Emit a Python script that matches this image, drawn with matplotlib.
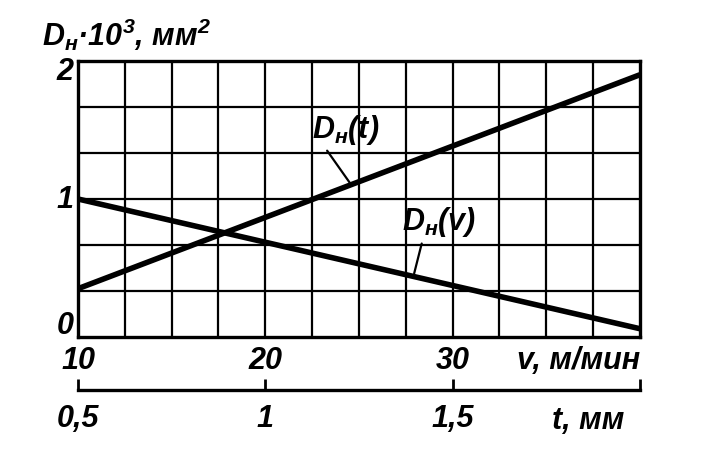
import matplotlib
matplotlib.use("Agg")
import matplotlib.pyplot as plt
import numpy as np

# values
v = [10, 40]                 # cutting speed, m/min (bottom scale)
t = [0.5, 2.0]               # depth, mm (second scale)
dn_t = [0.35, 1.90]          # D_H(t) * 10^3, mm^2
dn_v = [1.00, 0.06]          # D_H(v) * 10^3, mm^2

v_ticks = [10, 20, 30]
v_labels = ["10", "20", "30"]
t_ticks = [0.5, 1.0, 1.5, 2.0]
t_labels = ["0,5", "1", "1,5", ""]
y_marks = [1.93, 1.0, 0.09]
y_labels = ["2", "1", "0"]

FAM = ["Liberation Sans", "DejaVu Sans"]
plt.rcParams["font.family"] = FAM
plt.rcParams["mathtext.fontset"] = "custom"
plt.rcParams["mathtext.it"] = "Liberation Sans:italic:bold"
plt.rcParams["mathtext.rm"] = "Liberation Sans:italic:bold"
plt.rcParams["mathtext.bf"] = "Liberation Sans:italic:bold"
FS = 22
txt = dict(fontsize=FS, fontweight="bold", fontstyle="italic")

fig = plt.figure(figsize=(7.04, 4.64), dpi=100)
ax = fig.add_axes([0.1108, 0.2716, 0.798, 0.5948])

ax.set_xlim(v[0], v[1])
ax.set_ylim(0, 2)
for gx in np.arange(12.5, 39.9, 2.5):
    ax.axvline(gx, color="black", linewidth=1.6, zorder=1)
for gy in np.arange(1, 6) / 3:
    ax.axhline(gy, color="black", linewidth=1.6, zorder=1)
ax.set_xticks(v_ticks)
ax.set_xticklabels(v_labels, **txt)
ax.set_yticks([])
ax.tick_params(axis="x", length=0, pad=6)
for s in ax.spines.values():
    s.set_linewidth(2.4)

ax.plot(v, dn_v, color="black", linewidth=4, solid_capstyle="butt", zorder=3)
# D_H(t) drawn in the same frame, its t range spans the v range
tx = np.interp(t, t, v)
ax.plot(tx, dn_t, color="black", linewidth=4, solid_capstyle="butt", zorder=3)

for yv, lab in zip(y_marks, y_labels):
    ax.text(9.3, yv, lab, ha="center", va="center", **txt)

ax.text(8.1, 2.2, r"$D_н$·10$^3$, мм$^2$", ha="left", va="center", **txt)
ax.text(40, -0.06, "v, м/мин", ha="right", va="top", **txt)

ax.annotate(r"$D_н(t)$", xy=(24.5, 1.12), xytext=(24.3, 1.51),
            ha="center", va="center", fontsize=FS,
            arrowprops=dict(arrowstyle="-", color="black", lw=1.6,
                            relpos=(0.17, 0.0), shrinkA=2, shrinkB=0))
ax.annotate(r"$D_н(v)$", xy=(27.95, 0.46), xytext=(29.3, 0.84),
            ha="center", va="center", fontsize=FS,
            arrowprops=dict(arrowstyle="-", color="black", lw=1.6,
                            relpos=(0.28, 0.0), shrinkA=2, shrinkB=0))

# second scale for t
ax2 = fig.add_axes([0.1108, 0.157, 0.798, 0.0])
ax2.set_xlim(t[0], t[1])
ax2.set_yticks([])
for k in ["top", "left", "right"]:
    ax2.spines[k].set_visible(False)
ax2.spines["bottom"].set_linewidth(2.4)
ax2.set_xticks(t_ticks)
ax2.set_xticklabels(t_labels, **txt)
ax2.tick_params(axis="x", direction="in", length=8, width=2, pad=9)
ax2.annotate("t, мм", xy=(1.96, 0), xycoords=ax2.get_xaxis_transform(),
             xytext=(0, -11), textcoords="offset points",
             ha="right", va="top", **txt)
ax2.patch.set_alpha(0)

fig.savefig("out.png", dpi=100)
